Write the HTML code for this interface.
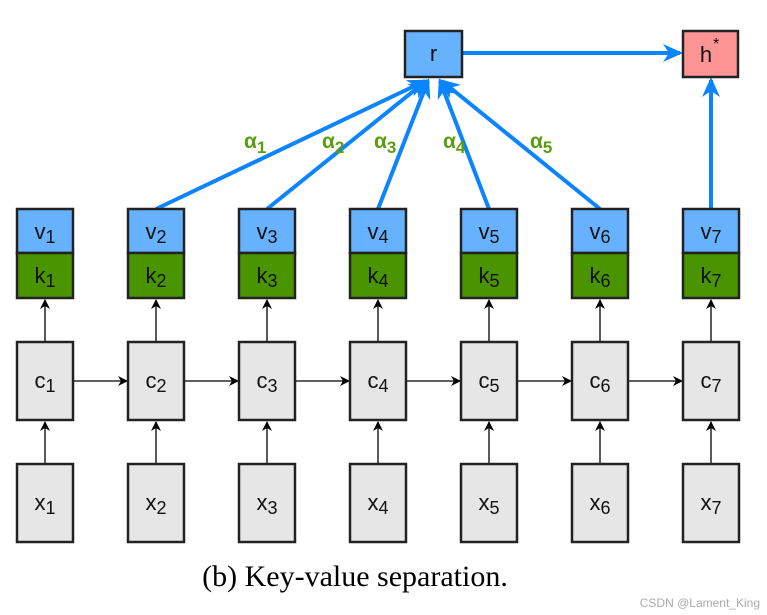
<!DOCTYPE html>
<html><head><meta charset="utf-8"><style>
html,body{margin:0;padding:0;background:#fff;}
svg{display:block;}
.t{font-family:"Liberation Sans","DejaVu Sans",sans-serif;font-size:22px;fill:#111;}
.s{font-size:18px;}
.a{font-family:"Liberation Sans","DejaVu Sans",sans-serif;font-size:21px;font-weight:bold;fill:#5a9e10;}
.bx{stroke:#222;stroke-width:2.5;}
</style></head><body>
<svg width="767" height="615" viewBox="0 0 767 615" xmlns="http://www.w3.org/2000/svg">
<defs>
<marker id="bh" markerWidth="10" markerHeight="10" refX="9" refY="5" orient="auto" markerUnits="userSpaceOnUse" viewBox="0 0 10 10"><path d="M0,0 L10,5 L0,10 L3,5z" fill="#000"/></marker>
<marker id="uh" markerWidth="20" markerHeight="18" refX="17" refY="9" orient="auto" markerUnits="userSpaceOnUse" viewBox="0 0 20 18"><path d="M0,0 L20,9 L0,18 L6,9z" fill="#0a84ff"/></marker>
</defs>
<g stroke="#0a84ff" stroke-width="4" fill="none">
<line x1="156" y1="209" x2="425" y2="81" marker-end="url(#uh)"/>
<line x1="267" y1="209" x2="426" y2="81" marker-end="url(#uh)"/>
<line x1="378" y1="209" x2="428" y2="81" marker-end="url(#uh)"/>
<line x1="489" y1="209" x2="440" y2="81" marker-end="url(#uh)"/>
<line x1="600" y1="209" x2="442" y2="81" marker-end="url(#uh)"/>
<line x1="711" y1="209" x2="711" y2="80" marker-end="url(#uh)"/>
<line x1="462" y1="53" x2="680" y2="53" marker-end="url(#uh)"/>
</g>
<rect class="bx" x="405" y="31" width="57" height="46" fill="#66b2ff"/>
<text class="t" x="433.5" y="61" text-anchor="middle">r</text>
<rect class="bx" x="683" y="31" width="55" height="46" fill="#ff9494"/>
<text class="t" x="706" y="62" text-anchor="middle">h</text><text class="t" x="713" y="49" style="font-size:16px">*</text>
<text class="a" x="244" y="148">α<tspan dy="5" style="font-size:17px">1</tspan></text>
<text class="a" x="322" y="148">α<tspan dy="5" style="font-size:17px">2</tspan></text>
<text class="a" x="374" y="148">α<tspan dy="5" style="font-size:17px">3</tspan></text>
<text class="a" x="443" y="148">α<tspan dy="5" style="font-size:17px">4</tspan></text>
<text class="a" x="530" y="148">α<tspan dy="5" style="font-size:17px">5</tspan></text>

<g stroke="#000" stroke-width="1.3">
<line x1="45" y1="342" x2="45" y2="300" marker-end="url(#bh)"/><line x1="156" y1="342" x2="156" y2="300" marker-end="url(#bh)"/><line x1="267" y1="342" x2="267" y2="300" marker-end="url(#bh)"/><line x1="378" y1="342" x2="378" y2="300" marker-end="url(#bh)"/><line x1="489" y1="342" x2="489" y2="300" marker-end="url(#bh)"/><line x1="600" y1="342" x2="600" y2="300" marker-end="url(#bh)"/><line x1="711" y1="342" x2="711" y2="300" marker-end="url(#bh)"/>
<line x1="45" y1="464" x2="45" y2="422" marker-end="url(#bh)"/><line x1="156" y1="464" x2="156" y2="422" marker-end="url(#bh)"/><line x1="267" y1="464" x2="267" y2="422" marker-end="url(#bh)"/><line x1="378" y1="464" x2="378" y2="422" marker-end="url(#bh)"/><line x1="489" y1="464" x2="489" y2="422" marker-end="url(#bh)"/><line x1="600" y1="464" x2="600" y2="422" marker-end="url(#bh)"/><line x1="711" y1="464" x2="711" y2="422" marker-end="url(#bh)"/>
<line x1="73" y1="381" x2="127" y2="381" marker-end="url(#bh)"/><line x1="184" y1="381" x2="238" y2="381" marker-end="url(#bh)"/><line x1="295" y1="381" x2="349" y2="381" marker-end="url(#bh)"/><line x1="406" y1="381" x2="460" y2="381" marker-end="url(#bh)"/><line x1="517" y1="381" x2="571" y2="381" marker-end="url(#bh)"/><line x1="628" y1="381" x2="682" y2="381" marker-end="url(#bh)"/>
</g>

<g class="bx">
<rect x="17" y="209" width="56" height="44" fill="#66b2ff"/><rect x="17" y="253" width="56" height="45" fill="#4a9400"/>
<rect x="128" y="209" width="56" height="44" fill="#66b2ff"/><rect x="128" y="253" width="56" height="45" fill="#4a9400"/>
<rect x="239" y="209" width="56" height="44" fill="#66b2ff"/><rect x="239" y="253" width="56" height="45" fill="#4a9400"/>
<rect x="350" y="209" width="56" height="44" fill="#66b2ff"/><rect x="350" y="253" width="56" height="45" fill="#4a9400"/>
<rect x="461" y="209" width="56" height="44" fill="#66b2ff"/><rect x="461" y="253" width="56" height="45" fill="#4a9400"/>
<rect x="572" y="209" width="56" height="44" fill="#66b2ff"/><rect x="572" y="253" width="56" height="45" fill="#4a9400"/>
<rect x="683" y="209" width="56" height="44" fill="#66b2ff"/><rect x="683" y="253" width="56" height="45" fill="#4a9400"/>
<rect x="17" y="342" width="56" height="78" fill="#e6e6e6"/><rect x="128" y="342" width="56" height="78" fill="#e6e6e6"/><rect x="239" y="342" width="56" height="78" fill="#e6e6e6"/><rect x="350" y="342" width="56" height="78" fill="#e6e6e6"/><rect x="461" y="342" width="56" height="78" fill="#e6e6e6"/><rect x="572" y="342" width="56" height="78" fill="#e6e6e6"/><rect x="683" y="342" width="56" height="78" fill="#e6e6e6"/>
<rect x="17" y="464" width="56" height="78" fill="#e6e6e6"/><rect x="128" y="464" width="56" height="78" fill="#e6e6e6"/><rect x="239" y="464" width="56" height="78" fill="#e6e6e6"/><rect x="350" y="464" width="56" height="78" fill="#e6e6e6"/><rect x="461" y="464" width="56" height="78" fill="#e6e6e6"/><rect x="572" y="464" width="56" height="78" fill="#e6e6e6"/><rect x="683" y="464" width="56" height="78" fill="#e6e6e6"/>
</g>

<g class="t" text-anchor="middle">
<text x="45" y="239">v<tspan class="s" dy="4">1</tspan></text><text x="156" y="239">v<tspan class="s" dy="4">2</tspan></text><text x="267" y="239">v<tspan class="s" dy="4">3</tspan></text><text x="378" y="239">v<tspan class="s" dy="4">4</tspan></text><text x="489" y="239">v<tspan class="s" dy="4">5</tspan></text><text x="600" y="239">v<tspan class="s" dy="4">6</tspan></text><text x="711" y="239">v<tspan class="s" dy="4">7</tspan></text>
<text x="45" y="283">k<tspan class="s" dy="4">1</tspan></text><text x="156" y="283">k<tspan class="s" dy="4">2</tspan></text><text x="267" y="283">k<tspan class="s" dy="4">3</tspan></text><text x="378" y="283">k<tspan class="s" dy="4">4</tspan></text><text x="489" y="283">k<tspan class="s" dy="4">5</tspan></text><text x="600" y="283">k<tspan class="s" dy="4">6</tspan></text><text x="711" y="283">k<tspan class="s" dy="4">7</tspan></text>
<text x="45" y="388">c<tspan class="s" dy="4">1</tspan></text><text x="156" y="388">c<tspan class="s" dy="4">2</tspan></text><text x="267" y="388">c<tspan class="s" dy="4">3</tspan></text><text x="378" y="388">c<tspan class="s" dy="4">4</tspan></text><text x="489" y="388">c<tspan class="s" dy="4">5</tspan></text><text x="600" y="388">c<tspan class="s" dy="4">6</tspan></text><text x="711" y="388">c<tspan class="s" dy="4">7</tspan></text>
<text x="45" y="510">x<tspan class="s" dy="4">1</tspan></text><text x="156" y="510">x<tspan class="s" dy="4">2</tspan></text><text x="267" y="510">x<tspan class="s" dy="4">3</tspan></text><text x="378" y="510">x<tspan class="s" dy="4">4</tspan></text><text x="489" y="510">x<tspan class="s" dy="4">5</tspan></text><text x="600" y="510">x<tspan class="s" dy="4">6</tspan></text><text x="711" y="510">x<tspan class="s" dy="4">7</tspan></text>
</g>

<text x="355" y="586" text-anchor="middle" style="font-family:'Liberation Serif',serif;font-size:30px;fill:#000">(b) Key-value separation.</text>
<text x="760" y="607" text-anchor="end" style="font-family:'Liberation Sans',sans-serif;font-size:12px;fill:#aaa">CSDN @Lament_King</text>
</svg>
</body></html>
